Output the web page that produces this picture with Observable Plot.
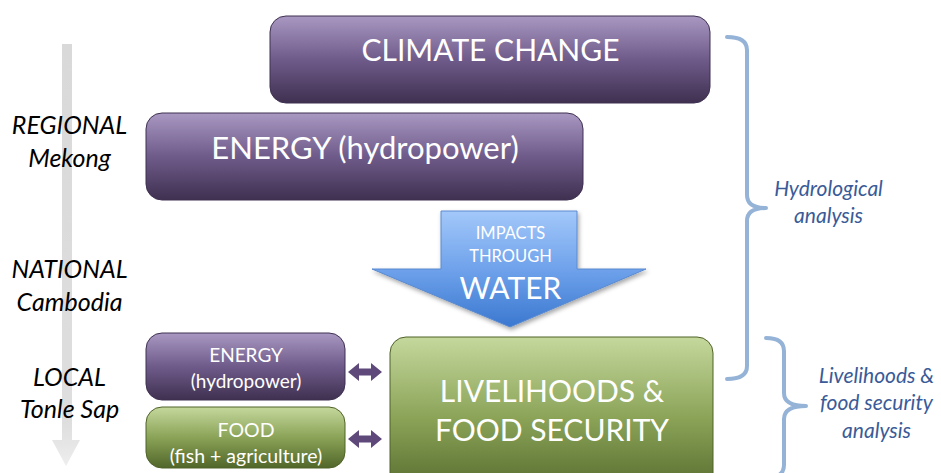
<!DOCTYPE html>
<html>
<head>
<meta charset="utf-8">
<script src="https://cdn.jsdelivr.net/npm/d3@7"></script>
<script src="https://cdn.jsdelivr.net/npm/@observablehq/plot@0.6"></script>
<style>
  html, body { margin: 0; padding: 0; background: #fff; overflow: hidden; }
  g[aria-label="box"] rect { filter: url(#shadow); }
</style>
</head>
<body>
<div id="chart"></div>
<script>
// ---- Diagram content ----
const boxNames = ["CLIMATE CHANGE", "ENERGY (hydropower)", "ENERGY\n(hydropower)", "FOOD\n(fish + agriculture)", "LIVELIHOODS &\nFOOD SECURITY"];
const boxThemes = ["purple", "purple", "purple", "green", "green"];
const scaleLabels = ["REGIONAL\nMekong", "NATIONAL\nCambodia", "LOCAL\nTonle Sap"];
const arrowSmallText = "IMPACTS\nTHROUGH";
const arrowBigText = "WATER";
const analysisLabels = ["Hydrological\nanalysis", "Livelihoods &\nfood security\nanalysis"];

// ---- Layout (diagram units on a 941 x 473 canvas) ----
const boxLeft = [270, 146, 146, 146, 390];
const boxRight = [710, 583, 345, 345, 713];
const boxTop = [16, 113, 333, 407, 337];
const boxBottom = [103, 200, 400, 468, 500];
const boxTextY = [51, 149, 366, 441, 408.5];
const boxFontSize = [30, 31, 19, 19.5, 30];
const boxLineHeight = [1, 1, 1.4, 1.35, 1.3];
const scaleLabelY = [139.5, 283.5, 391];
const bigArrowX = [441, 577, 577, 646, 510, 372, 441];
const bigArrowY = [211, 211, 269, 269, 327, 269, 269];
const analysisX = [828, 876];
const analysisY = [200, 401];
const braceSpec = [
  {x0: 727, x1: 747, x2: 766, y0: 37, ym: 208, y1: 379},
  {x0: 766, x1: 784, x2: 806, y0: 338, ym: 406, y1: 478}
];
const linkArrowY = [372, 439];

const boxes = boxNames.map((name, i) => ({
  name, theme: boxThemes[i],
  x1: boxLeft[i], x2: boxRight[i], y1: boxTop[i], y2: boxBottom[i],
  tx: (boxLeft[i] + boxRight[i]) / 2, ty: boxTextY[i],
  fs: boxFontSize[i], lh: boxLineHeight[i]
}));
const bigArrow = bigArrowX.map((x, i) => [x, bigArrowY[i]]);
// left scale arrow (gray) polygon
const scaleArrow = [[62,44],[72,44],[72,440],[80,440],[66,466],[52,440],[62,440]];
// double-headed link arrows
const linkArrows = linkArrowY.map(cy =>
  [[348,0],[359,-9],[359,-3.5],[371,-3.5],[371,-9],[382,0],[371,9],[371,3.5],[359,3.5],[359,9]]
    .map(([x, dy]) => [x, cy + dy]));

const FONT = "Lato, 'Open Sans', sans-serif";

function defsMark() {
  return () => {
    const defs = d3.create("svg:defs");
    const grad = (id, stops) => {
      const g = defs.append("linearGradient").attr("id", id).attr("x1", 0).attr("y1", 0).attr("x2", 0).attr("y2", 1);
      stops.forEach(([o, c, op]) => g.append("stop").attr("offset", o).attr("stop-color", c).attr("stop-opacity", op ?? 1));
    };
    grad("gPurple", [[0, "#a998c2"], [0.5, "#6f5b8a"], [1, "#3f3050"]]);
    grad("gGreen", [[0, "#c5d89d"], [0.5, "#8aa357"], [1, "#51662a"]]);
    grad("gBlue", [[0, "#a3c8fa"], [0.5, "#6fa2eb"], [1, "#3a78d0"]]);
    grad("gGray", [[0, "#d9d9d9"], [0.9, "#dedede"], [1, "#eeeeee"]]);
    const f = defs.append("filter").attr("id", "shadow").attr("x", "-10%").attr("y", "-10%").attr("width", "130%").attr("height", "140%");
    f.append("feDropShadow").attr("dx", 1.5).attr("dy", 2.5).attr("stdDeviation", 2).attr("flood-color", "#000").attr("flood-opacity", 0.35);
    return defs.node();
  };
}

// polygon mark: draws closed shapes through the plot's x/y scales
function polygonMark(polys, attrs) {
  return (index, scales) => {
    const g = d3.create("svg:g");
    for (const poly of polys) {
      const d = "M" + poly.map(([x, y]) => `${scales.x(x)},${scales.y(y)}`).join("L") + "Z";
      const p = g.append("path").attr("d", d);
      for (const [k, v] of Object.entries(attrs)) p.attr(k, v);
    }
    return g.node();
  };
}

function braceMark(data) {
  return (index, scales) => {
    const g = d3.create("svg:g").attr("aria-label", "brace");
    const r = 13;
    for (const b of data) {
      const xL = scales.x(b.x0), xM = scales.x(b.x1), xT = scales.x(b.x2);
      const yT = scales.y(b.y0), yM = scales.y(b.ym), yB = scales.y(b.y1);
      const p = d3.path();
      p.moveTo(xL, yT);
      p.quadraticCurveTo(xM, yT, xM, yT + r);
      p.lineTo(xM, yM - r);
      p.quadraticCurveTo(xM, yM, xT, yM);
      p.quadraticCurveTo(xM, yM, xM, yM + r);
      p.lineTo(xM, yB - r);
      p.quadraticCurveTo(xM, yB, xL, yB);
      g.append("path").attr("d", p.toString()).attr("fill", "none")
        .attr("stroke", "#95b3d7").attr("stroke-width", 4).attr("stroke-linecap", "round").attr("stroke-linejoin", "round");
    }
    return g.node();
  };
}

const chart = Plot.plot({
  width: 941,
  height: 473,
  margin: 0,
  x: {domain: [0, 941], range: [0, 941], axis: null},
  y: {domain: [0, 473], range: [0, 473], axis: null},
  style: {background: "#fff", overflow: "hidden"},
  marks: [
    defsMark(),
    // invisible frame to establish scales
    Plot.dot([[0, 0], [941, 473]], {x: d => d[0], y: d => d[1], r: 0, stroke: "none"}),
    // gray vertical scale arrow
    polygonMark([scaleArrow], {fill: "url(#gGray)"}),
    // boxes
    Plot.rect(boxes.filter(d => d.theme === "purple"), {x1: "x1", x2: "x2", y1: "y1", y2: "y2", rx: 16, fill: "url(#gPurple)", stroke: "#3f3151", strokeWidth: 1, ariaLabel: "box"}),
    Plot.rect(boxes.filter(d => d.theme === "green"), {x1: "x1", x2: "x2", y1: "y1", y2: "y2", rx: 16, fill: "url(#gGreen)", stroke: "#4f6228", strokeWidth: 1, ariaLabel: "box"}),
    // big downward arrow
    polygonMark([bigArrow], {fill: "url(#gBlue)", stroke: "#5a8ad0", "stroke-width": 1, filter: "url(#shadow)"}),
    // link arrows
    polygonMark(linkArrows, {fill: "#5f497a"}),
    // braces
    braceMark(braceSpec),
    // box texts
    ...boxes.map(b => Plot.text([b], {x: "tx", y: "ty", text: "name", fill: "white", fontSize: b.fs, lineHeight: b.lh, fontFamily: FONT, lineAnchor: "middle"})),
    // arrow texts
    Plot.text([arrowSmallText], {x: () => 510, y: () => 242.5, text: d => d, fill: "white", fontSize: 16.5, lineHeight: 1.4, fontFamily: FONT, lineAnchor: "middle"}),
    Plot.text([arrowBigText], {x: () => 510, y: () => 289, text: d => d, fill: "white", fontSize: 30, fontFamily: FONT, lineAnchor: "middle"}),
    // scale labels
    Plot.text(scaleLabels, {x: () => 69, y: (d, i) => scaleLabelY[i], text: d => d, fill: "black", fontSize: 25, fontStyle: "italic", lineHeight: 1.3, fontFamily: FONT, lineAnchor: "middle"}),
    // analysis labels
    Plot.text(analysisLabels, {x: (d, i) => analysisX[i], y: (d, i) => analysisY[i], text: d => d, fill: "#3a5b98", fontSize: 21, fontStyle: "italic", lineHeight: 1.3, fontFamily: FONT, lineAnchor: "middle"})
  ]
});
document.getElementById("chart").appendChild(chart);
</script>
</body>
</html>
